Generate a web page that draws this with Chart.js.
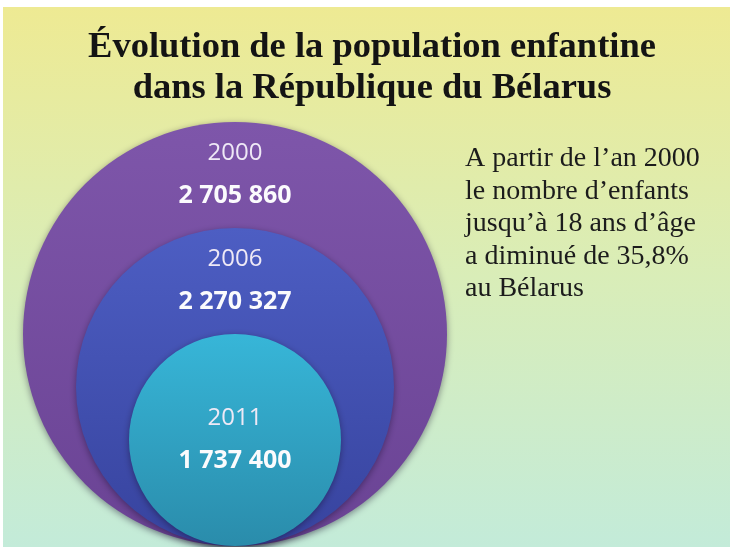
<!DOCTYPE html>
<html lang="fr">
<head>
<meta charset="utf-8">
<title>Évolution de la population enfantine</title>
<script src="https://cdn.jsdelivr.net/npm/chart.js@4.4.1/dist/chart.umd.min.js"></script>
<style>
  html, body { margin: 0; padding: 0; background: #fff; }
  #chart { display: block; }
</style>
</head>
<body>
<canvas id="chart" width="730" height="547"></canvas>
<script>
// data
const years = ["2000", "2006", "2011"];
const population = [2705860, 2270327, 1737400];
const titleLines = ["Évolution de la population enfantine", "dans la République du Bélarus"];
const noteLines = [
  "A partir de l’an 2000",
  "le nombre d’enfants",
  "jusqu’à 18 ans d’âge",
  "a diminué de 35,8%",
  "au Bélarus"
];

// circle size (in y-axis units), all circles sit on the baseline
const circleSizes = [212, 159, 106];
const circleColors = [
  ["#7e56aa", "#6a4394"],
  ["#4d5ec3", "#37439e"],
  ["#37b6d8", "#2a8cab"]
];
// gradients, built once the y scale is laid out
const circleFill = [];

function formatNumber(n) {
  return n.toString().replace(/\B(?=(\d{3})+(?!\d))/g, " ");
}

// background of the slide
const backgroundPlugin = {
  id: "slideBackground",
  beforeDraw(chart) {
    const ctx = chart.ctx;
    ctx.save();
    ctx.fillStyle = "#ffffff";
    ctx.fillRect(0, 0, chart.width, chart.height);
    const g = ctx.createLinearGradient(0, 7, 0, chart.height);
    g.addColorStop(0, "#eeea93");
    g.addColorStop(0.5, "#d9edb8");
    g.addColorStop(1, "#c3ebd9");
    ctx.fillStyle = g;
    ctx.fillRect(3, 7, chart.width - 3, chart.height - 7);
    ctx.restore();
  }
};

// vertical gradient for each circle, from the y scale
const fillPlugin = {
  id: "circleFill",
  beforeDatasetsUpdate(chart) {
    const s = chart.scales.y;
    circleSizes.forEach(function (size, i) {
      const g = chart.ctx.createLinearGradient(0, s.getPixelForValue(size * 2), 0, s.getPixelForValue(0));
      g.addColorStop(0, circleColors[i][0]);
      g.addColorStop(1, circleColors[i][1]);
      circleFill[i] = g;
    });
  }
};

// soft shadow under each circle
const shadowPlugin = {
  id: "circleShadow",
  beforeDatasetDraw(chart) {
    const ctx = chart.ctx;
    ctx.save();
    ctx.shadowColor = "rgba(20, 10, 40, 0.45)";
    ctx.shadowBlur = 7;
    ctx.shadowOffsetY = 2;
  },
  afterDatasetDraw(chart) {
    chart.ctx.restore();
  }
};

// year + value inside the visible band of each circle, and the texts
const textPlugin = {
  id: "slideTexts",
  afterDatasetsDraw(chart) {
    const ctx = chart.ctx;
    const pts = chart.getDatasetMeta(0).data;
    ctx.save();
    ctx.textAlign = "center";
    ctx.textBaseline = "alphabetic";
    pts.forEach(function (el, i) {
      const r = el.options.radius;
      const top = el.y - r;
      const next = pts[i + 1];
      const bottom = next ? next.y - next.options.radius : el.y + r;
      const mid = (top + bottom) / 2;
      ctx.fillStyle = "#efe9f6";
      ctx.font = "24px 'Open Sans'";
      ctx.fillText(years[i], el.x, mid - 15);
      ctx.fillStyle = "#fbfbfd";
      ctx.font = "bold 25px 'Open Sans'";
      ctx.fillText(formatNumber(population[i]), el.x, mid + 28);
    });

    ctx.fillStyle = "#141414";
    ctx.font = "bold 36.5px 'Liberation Serif'";
    ctx.fillText(titleLines[0], 372, 57);
    ctx.fillText(titleLines[1], 372, 98);

    ctx.textAlign = "left";
    ctx.fillStyle = "#1c1c1c";
    ctx.font = "28px 'Liberation Serif'";
    noteLines.forEach(function (line, i) {
      ctx.fillText(line, 465, 166 + i * 32.5);
    });
    ctx.restore();
  }
};

const ctx = document.getElementById("chart").getContext("2d");
const chart = new Chart(ctx, {
  type: "bubble",
  data: {
    labels: years,
    datasets: [
      {
        label: "Population enfantine",
        data: years.map(function (y, i) {
          return { x: 0, y: circleSizes[i], r: 1 };
        }),
        borderWidth: 0,
        clip: false,
        backgroundColor: function (c) {
          return circleFill[c.dataIndex] || circleColors[c.dataIndex][0];
        }
      }
    ]
  },
  options: {
    responsive: false,
    animation: false,
    events: [],
    layout: {
      autoPadding: false,
      padding: { left: 0, right: 260, top: 0, bottom: 1 }
    },
    scales: {
      x: { display: false, min: -1, max: 1 },
      y: { display: false, min: 0, max: 546 }
    },
    plugins: {
      legend: { display: false },
      title: { display: false },
      tooltip: { enabled: false }
    }
  },
  plugins: [backgroundPlugin, fillPlugin, shadowPlugin, textPlugin]
});

// bubble radius in pixels = circle size measured on the y scale
const yScale = chart.scales.y;
chart.data.datasets[0].data.forEach(function (p, i) {
  p.r = yScale.getPixelForValue(0) - yScale.getPixelForValue(circleSizes[i]);
});
chart.update();
</script>
</body>
</html>
